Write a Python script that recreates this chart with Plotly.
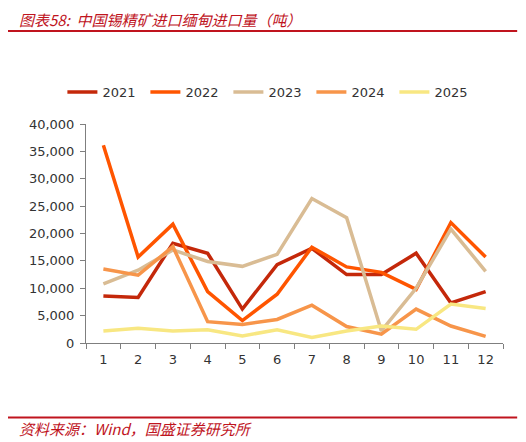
import plotly.graph_objects as go

months = [str(m) for m in range(1, 13)]
v2021 = [8600, 8300, 18200, 16400, 6200, 14300, 17300, 12500, 12500, 16400, 7300, 9400]
v2022 = [36100, 15700, 21700, 9400, 4100, 8900, 17500, 13900, 12900, 9800, 22000, 15700]
v2023 = [10800, 13300, 17000, 14900, 14000, 16200, 26400, 22900, 2200, 10000, 20800, 13100]
v2024 = [13500, 12400, 17600, 3900, 3400, 4300, 6900, 3000, 1600, 6200, 3100, 1200]
v2025 = [2200, 2700, 2200, 2400, 1300, 2400, 1000, 2200, 3100, 2500, 7100, 6300]
years = ["2021", "2022", "2023", "2024", "2025"]
colors = ["#C4280A", "#FF5500", "#D9BC94", "#F7954A", "#F8E782"]

red = "#C0141E"
fig = go.Figure()
for name, vals, c in zip(years, [v2021, v2022, v2023, v2024, v2025], colors):
    fig.add_trace(go.Scatter(x=months, y=vals, mode="lines", name=name,
                             line=dict(color=c, width=3.5)))

# page body has an 8px margin, so the figure is drawn 8px smaller and offset
fig.update_layout(
    width=518, height=434,
    margin=dict(l=78, r=23, t=116, b=99),
    plot_bgcolor="white", paper_bgcolor="white",
    font=dict(family="DejaVu Sans", size=12, color="#333333"),
    showlegend=True,
    legend=dict(orientation="h", x=0.441, xanchor="center",
                y=1.146, yanchor="middle", entrywidth=38,
                font=dict(size=13, color="#333333")),
    shapes=[
        dict(type="line", xref="paper", yref="paper", x0=-0.194, x1=1.034, y0=1.425, y1=1.425,
             line=dict(color=red, width=2)),
        dict(type="line", xref="paper", yref="paper", x0=-0.194, x1=1.034, y0=-0.34, y1=-0.34,
             line=dict(color=red, width=2)),
    ],
    annotations=[
        dict(text="<i>图表58:  中国锡精矿进口缅甸进口量（吨）</i>", xref="paper", yref="paper",
             x=-0.165, y=1.478, xanchor="left", yanchor="middle", showarrow=False,
             font=dict(family="Noto Sans CJK SC", size=15, color=red)),
        dict(text="<i>资料来源：Wind，国盛证券研究所</i>", xref="paper", yref="paper",
             x=-0.165, y=-0.39, xanchor="left", yanchor="middle", showarrow=False,
             font=dict(family="Noto Sans CJK SC", size=15, color=red)),
    ],
)
fig.update_xaxes(type="category", range=[-0.5, 11.5], showline=True, linecolor="#7F7F7F",
                 linewidth=1, ticks="outside", tickson="boundaries", ticklen=5,
                 tickcolor="#7F7F7F", showgrid=False, tickfont=dict(size=13),
                 ticklabelstandoff=4)
fig.update_yaxes(range=[0, 40000], dtick=5000, tickformat=",", showline=True,
                 linecolor="#7F7F7F", linewidth=1, ticks="outside", ticklen=5,
                 tickcolor="#7F7F7F", showgrid=False, zeroline=False,
                 tickfont=dict(size=13), ticklabelstandoff=3)
fig.write_html("out.html")
